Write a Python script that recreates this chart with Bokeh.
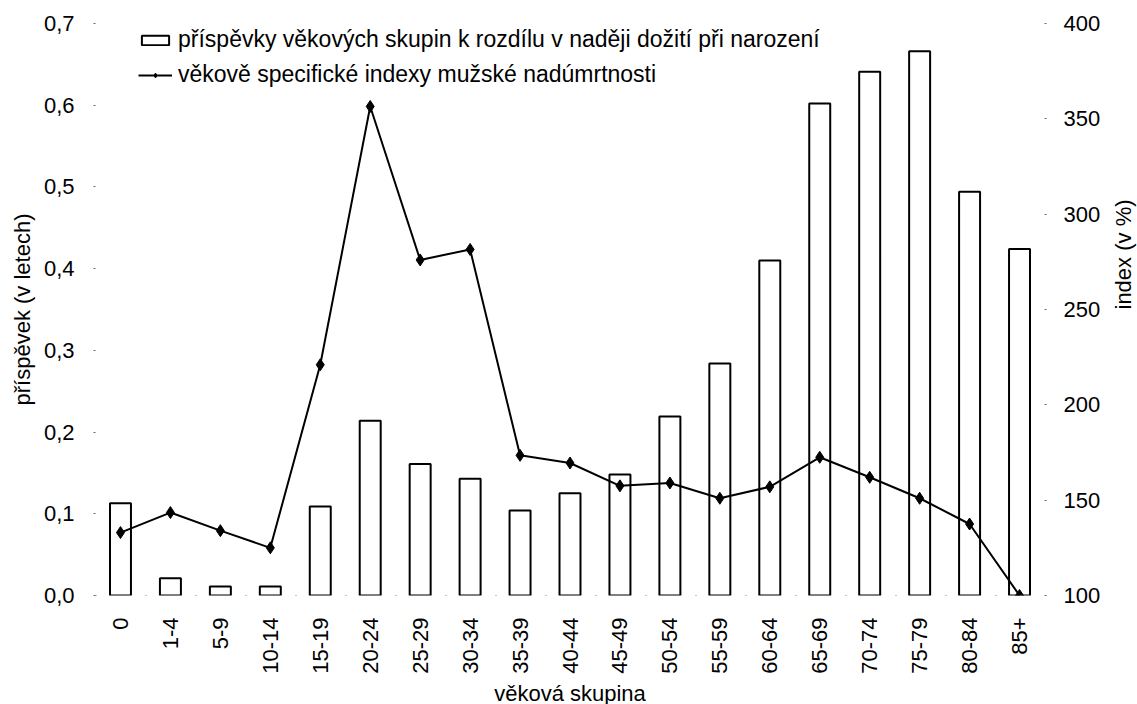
import math
from bokeh.plotting import figure
from bokeh.models import (Range1d, LinearAxis, FixedTicker, Legend, LegendItem,
                          ColumnDataSource)
from bokeh.embed import file_html
from bokeh.resources import INLINE

# ---- data ----
categories = ["0", "1-4", "5-9", "10-14", "15-19", "20-24", "25-29", "30-34", "35-39",
              "40-44", "45-49", "50-54", "55-59", "60-64", "65-69", "70-74", "75-79",
              "80-84", "85+"]
contributions = [0.113, 0.021, 0.011, 0.011, 0.109, 0.214, 0.161, 0.143, 0.104,
                 0.125, 0.148, 0.219, 0.284, 0.410, 0.602, 0.641, 0.666, 0.494, 0.424]
index_values = [133, 143.5, 134, 125, 221, 356.5, 276, 281.5, 173.5,
                169.5, 157.5, 159, 151, 157, 172.5, 162, 151, 137.5, 100]
left_ticks = [0.0, 0.1, 0.2, 0.3, 0.4, 0.5, 0.6, 0.7]
left_tick_labels = ["0,0", "0,1", "0,2", "0,3", "0,4", "0,5", "0,6", "0,7"]
right_ticks = [100, 150, 200, 250, 300, 350, 400]

bar_label = "příspěvky věkových skupin k rozdílu v naději dožití při narození"
line_label = "věkově specifické indexy mužské nadúmrtnosti"
FONT = "Liberation Sans"

src = ColumnDataSource(dict(cat=categories, val=contributions, idx=index_values))

p = figure(x_range=categories, y_range=Range1d(0, 0.7),
           frame_width=949, frame_height=572,
           output_backend="svg", toolbar_location=None,
           min_border_left=95, min_border_right=93, min_border_top=23, min_border_bottom=109)
p.extra_y_ranges = {"idx": Range1d(100, 400)}
p.outline_line_color = None
p.xgrid.grid_line_color = None
p.ygrid.grid_line_color = None
p.background_fill_color = "white"
p.border_fill_color = "white"

bars = p.vbar(x="cat", top="val", width=0.42, source=src, fill_color="white",
              line_color="black", line_width=2)
ln = p.line(x="cat", y="idx", source=src, y_range_name="idx", line_color="black", line_width=2)
mk = p.scatter(x="cat", y="idx", source=src, y_range_name="idx", marker="diamond", size=12,
               fill_color="black", line_color="black")

TICK_FS = "22px"

# left axis
ya = p.yaxis[0]
ya.ticker = FixedTicker(ticks=left_ticks)
ya.major_label_overrides = {t: l for t, l in zip(left_ticks, left_tick_labels)}
ya.axis_line_color = None
ya.major_tick_line_color = "#666666"
ya.major_tick_out = 2
ya.major_tick_in = 0
ya.minor_tick_line_color = None
ya.major_label_text_font = FONT
ya.major_label_text_font_size = TICK_FS
ya.major_label_text_color = "black"
ya.major_label_standoff = 19
ya.axis_label = "příspěvek (v letech)"
ya.axis_label_text_font = FONT
ya.axis_label_text_font_size = "22px"
ya.axis_label_text_font_style = "normal"
ya.axis_label_text_color = "black"
ya.axis_label_standoff = 6

# right axis
ra = LinearAxis(y_range_name="idx", ticker=FixedTicker(ticks=right_ticks))
ra.axis_line_color = None
ra.major_tick_line_color = "#666666"
ra.major_tick_out = 2
ra.major_tick_in = 0
ra.minor_tick_line_color = None
ra.major_label_text_font = FONT
ra.major_label_text_font_size = TICK_FS
ra.major_label_text_color = "black"
ra.major_label_standoff = 17
ra.axis_label = "index (v %)"
ra.axis_label_text_font = FONT
ra.axis_label_text_font_size = "22px"
ra.axis_label_text_font_style = "normal"
ra.axis_label_text_color = "black"
ra.axis_label_standoff = 20
if "axis_label_orientation" in ra.properties():
    ra.axis_label_orientation = math.pi / 2
p.add_layout(ra, "right")

# x axis
xa = p.xaxis[0]
xa.axis_line_color = "#888888"
xa.axis_line_dash = "1 24"
xa.major_tick_line_color = None
xa.major_label_orientation = math.pi / 2
xa.major_label_text_font = FONT
xa.major_label_text_font_size = TICK_FS
xa.major_label_text_color = "black"
xa.major_label_standoff = 16
xa.axis_label = "věková skupina"
xa.axis_label_text_font = FONT
xa.axis_label_text_font_size = "22px"
xa.axis_label_text_font_style = "normal"
xa.axis_label_text_color = "black"
xa.axis_label_standoff = 4

legend = Legend(items=[LegendItem(label=bar_label, renderers=[bars]),
                       LegendItem(label=line_label, renderers=[ln, mk])],
                location=(43, 507), orientation="vertical")
legend.border_line_color = None
legend.background_fill_alpha = 0
legend.label_text_font = FONT
legend.label_text_font_size = "23px"
legend.label_text_color = "black"
legend.glyph_width = 34
legend.glyph_height = 12
legend.label_height = 20
legend.spacing = 8
legend.padding = 0
legend.margin = 0
legend.label_standoff = 6
p.add_layout(legend)

open("out.html", "w").write(file_html(p, INLINE))
